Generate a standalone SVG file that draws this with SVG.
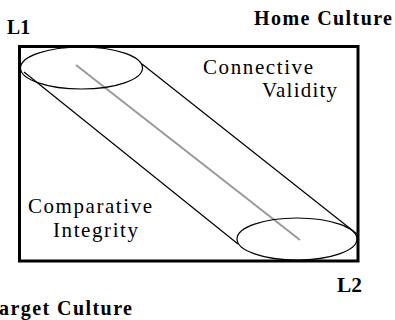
<svg xmlns="http://www.w3.org/2000/svg" width="395" height="320" viewBox="0 0 395 320">
<style>
.lbl{font-family:"Liberation Serif","Times New Roman",serif;font-size:20px;font-weight:bold;fill:#000}
.txt{font-family:"Liberation Serif","Times New Roman",serif;font-size:21px;fill:#000}
.ln{stroke:#000;stroke-width:1.2;fill:none}
</style>
<rect width="395" height="320" fill="#fff"/>
<g id="frame">
<rect x="19.5" y="46.5" width="338.5" height="214.5" fill="none" stroke="#000" stroke-width="3"/>
</g>
<g id="connectors">
<line class="ln" x1="142" y1="64" x2="357" y2="234"/>
<line class="ln" x1="24" y1="72" x2="238" y2="244"/>
<line x1="76" y1="65" x2="300" y2="240" stroke="#999" stroke-width="2"/>
</g>
<g id="L1-ellipse">
<ellipse class="ln" cx="81.5" cy="68" rx="61" ry="21"/>
</g>
<g id="L2-ellipse">
<ellipse class="ln" cx="297" cy="239" rx="60" ry="21"/>
</g>
<g id="labels">
<text class="lbl" x="7" y="34" textLength="23" lengthAdjust="spacingAndGlyphs">L1</text>
<text class="lbl" x="254" y="25" textLength="138" lengthAdjust="spacing">Home Culture</text>
<text class="lbl" x="337" y="292" textLength="25" lengthAdjust="spacingAndGlyphs">L2</text>
<text class="lbl" x="-14" y="315" textLength="146" lengthAdjust="spacing">Target Culture</text>
</g>
<g id="connective-validity">
<text class="txt" x="203" y="74" textLength="110" lengthAdjust="spacing">Connective</text>
<text class="txt" x="262" y="97" textLength="75" lengthAdjust="spacing">Validity</text>
</g>
<g id="comparative-integrity">
<text class="txt" x="28" y="213" textLength="124" lengthAdjust="spacing">Comparative</text>
<text class="txt" x="53" y="237" textLength="85" lengthAdjust="spacing">Integrity</text>
</g>
</svg>
